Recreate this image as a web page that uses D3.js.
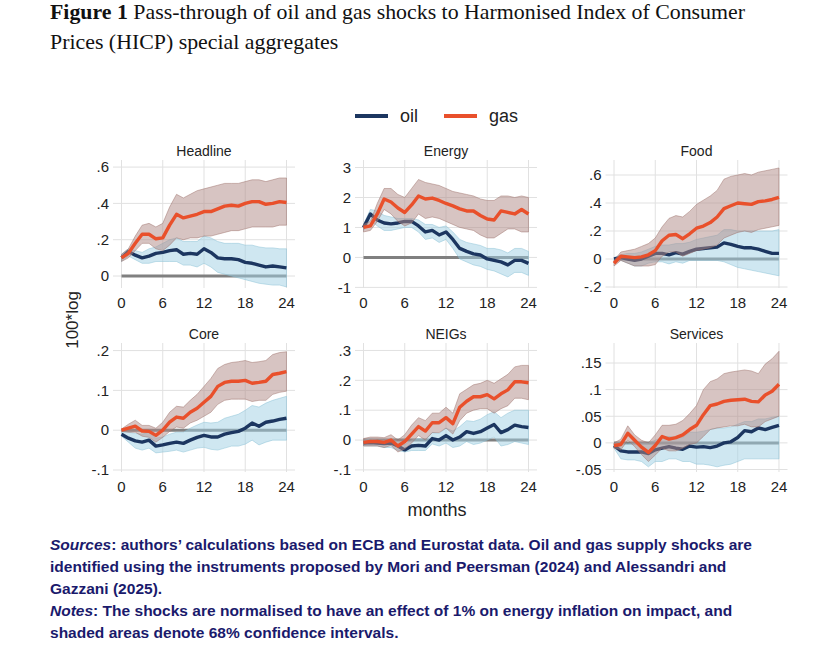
<!DOCTYPE html>
<html>
<head>
<meta charset="utf-8">
<script src="https://cdn.jsdelivr.net/npm/d3@7"></script>
<style>
  body { margin: 0; background: #fff; }
  svg { display: block; }
</style>
</head>
<body>
<svg id="chart" width="816" height="651"></svg>
<script>
// months after the shock
const months = [0, 1, 2, 3, 4, 5, 6, 7, 8, 9, 10, 11, 12, 13, 14, 15, 16, 17, 18, 19, 20, 21, 22, 23, 24];
const xTicks = [0, 6, 12, 18, 24];
const panelTitles = ["Headline", "Energy", "Food", "Core", "NEIGs", "Services"];
const seriesNames = ["oil", "gas"];

// Headline
const headlineOil   = [0.10, 0.135, 0.115, 0.10, 0.11, 0.125, 0.13, 0.14, 0.145, 0.12, 0.125, 0.12, 0.15, 0.13, 0.10, 0.095, 0.095, 0.09, 0.075, 0.07, 0.06, 0.05, 0.055, 0.05, 0.045];
const headlineOilHi = [0.12, 0.15, 0.14, 0.13, 0.15, 0.16, 0.18, 0.20, 0.21, 0.19, 0.19, 0.19, 0.22, 0.21, 0.19, 0.18, 0.18, 0.18, 0.17, 0.17, 0.16, 0.155, 0.155, 0.15, 0.15];
const headlineOilLo = [0.08, 0.11, 0.09, 0.07, 0.07, 0.08, 0.08, 0.08, 0.08, 0.06, 0.06, 0.05, 0.07, 0.05, 0.02, 0.01, 0.0, -0.01, -0.02, -0.03, -0.04, -0.045, -0.05, -0.05, -0.06];
const headlineGas   = [0.10, 0.125, 0.18, 0.23, 0.23, 0.205, 0.21, 0.28, 0.34, 0.32, 0.33, 0.34, 0.355, 0.355, 0.37, 0.385, 0.39, 0.385, 0.40, 0.41, 0.41, 0.395, 0.40, 0.41, 0.405];
const headlineGasHi = [0.12, 0.15, 0.22, 0.28, 0.29, 0.27, 0.29, 0.38, 0.45, 0.43, 0.45, 0.47, 0.48, 0.49, 0.50, 0.51, 0.51, 0.51, 0.52, 0.53, 0.53, 0.52, 0.53, 0.54, 0.54];
const headlineGasLo = [0.08, 0.10, 0.14, 0.18, 0.18, 0.15, 0.14, 0.17, 0.21, 0.20, 0.21, 0.21, 0.22, 0.22, 0.23, 0.24, 0.25, 0.25, 0.26, 0.27, 0.27, 0.27, 0.27, 0.28, 0.28];

// Energy
const energyOil   = [1.0, 1.45, 1.25, 1.15, 1.12, 1.15, 1.2, 1.2, 1.05, 0.85, 0.9, 0.75, 0.85, 0.6, 0.3, 0.2, 0.12, 0.08, -0.05, -0.1, -0.15, -0.25, -0.1, -0.1, -0.2];
const energyOilHi = [1.1, 1.6, 1.55, 1.4, 1.35, 1.3, 1.3, 1.3, 1.25, 1.1, 1.1, 1.0, 1.05, 0.85, 0.6, 0.5, 0.45, 0.4, 0.3, 0.3, 0.25, 0.15, 0.3, 0.3, 0.2];
const energyOilLo = [0.9, 1.25, 1.05, 0.9, 0.9, 0.95, 1.0, 1.0, 0.85, 0.6, 0.65, 0.5, 0.6, 0.3, -0.05, -0.15, -0.25, -0.3, -0.4, -0.45, -0.55, -0.65, -0.5, -0.5, -0.6];
const energyGas   = [1.0, 1.05, 1.45, 1.95, 1.85, 1.65, 1.5, 1.75, 2.05, 1.95, 1.98, 1.9, 1.8, 1.72, 1.62, 1.55, 1.55, 1.4, 1.28, 1.25, 1.55, 1.5, 1.45, 1.6, 1.45];
const energyGasHi = [1.1, 1.2, 1.8, 2.3, 2.3, 2.1, 2.0, 2.3, 2.6, 2.5, 2.45, 2.4, 2.3, 2.2, 2.15, 2.1, 2.05, 1.95, 1.9, 1.9, 2.05, 2.05, 2.0, 2.05, 2.0];
const energyGasLo = [0.85, 0.9, 1.2, 1.6, 1.45, 1.2, 1.05, 1.15, 1.45, 1.3, 1.35, 1.3, 1.2, 1.1, 1.0, 0.95, 0.9, 0.75, 0.65, 0.65, 0.8, 0.95, 0.95, 0.85, 0.85];

// Food
const foodOil   = [0.0, 0.01, 0.0, -0.01, 0.0, 0.02, 0.04, 0.04, 0.03, 0.045, 0.035, 0.055, 0.07, 0.075, 0.08, 0.085, 0.115, 0.105, 0.09, 0.08, 0.08, 0.07, 0.055, 0.04, 0.04];
const foodOilHi = [0.01, 0.03, 0.04, 0.04, 0.05, 0.07, 0.09, 0.10, 0.10, 0.11, 0.11, 0.12, 0.14, 0.15, 0.16, 0.17, 0.21, 0.21, 0.20, 0.20, 0.20, 0.20, 0.20, 0.20, 0.21];
const foodOilLo = [-0.01, -0.01, -0.03, -0.05, -0.05, -0.03, -0.02, -0.02, -0.035, -0.02, -0.03, -0.01, -0.01, -0.01, -0.01, -0.01, -0.02, -0.04, -0.06, -0.07, -0.08, -0.09, -0.10, -0.11, -0.12];
const foodGas   = [-0.03, 0.02, 0.015, 0.01, 0.015, 0.03, 0.06, 0.13, 0.17, 0.175, 0.145, 0.18, 0.22, 0.235, 0.26, 0.30, 0.36, 0.38, 0.40, 0.395, 0.39, 0.41, 0.415, 0.425, 0.44];
const foodGasHi = [-0.01, 0.05, 0.06, 0.07, 0.09, 0.11, 0.15, 0.23, 0.29, 0.31, 0.30, 0.34, 0.39, 0.42, 0.45, 0.49, 0.57, 0.59, 0.60, 0.61, 0.60, 0.62, 0.63, 0.64, 0.65];
const foodGasLo = [-0.05, -0.01, -0.03, -0.05, -0.05, -0.05, -0.04, 0.02, 0.05, 0.05, 0.02, 0.04, 0.06, 0.07, 0.08, 0.10, 0.15, 0.17, 0.19, 0.20, 0.19, 0.21, 0.22, 0.23, 0.24];

// Core
const coreOil   = [-0.01, -0.02, -0.027, -0.03, -0.025, -0.04, -0.037, -0.033, -0.03, -0.033, -0.025, -0.018, -0.013, -0.017, -0.017, -0.01, -0.006, -0.003, 0.005, 0.018, 0.01, 0.02, 0.023, 0.027, 0.03];
const coreOilHi = [-0.005, -0.005, -0.008, -0.01, -0.005, -0.02, -0.017, -0.01, -0.005, -0.005, 0.005, 0.013, 0.02, 0.018, 0.02, 0.03, 0.035, 0.04, 0.05, 0.062, 0.058, 0.068, 0.075, 0.08, 0.085];
const coreOilLo = [-0.015, -0.03, -0.045, -0.05, -0.045, -0.057, -0.055, -0.053, -0.05, -0.055, -0.05, -0.045, -0.043, -0.048, -0.05, -0.045, -0.04, -0.04, -0.035, -0.025, -0.037, -0.03, -0.025, -0.025, -0.025];
const coreGas   = [0.0, 0.005, 0.01, -0.002, -0.003, -0.013, 0.0, 0.02, 0.033, 0.03, 0.045, 0.055, 0.07, 0.085, 0.11, 0.12, 0.123, 0.123, 0.125, 0.118, 0.12, 0.123, 0.14, 0.143, 0.147];
const coreGasHi = [0.003, 0.015, 0.025, 0.012, 0.012, 0.005, 0.02, 0.045, 0.06, 0.058, 0.075, 0.09, 0.11, 0.13, 0.155, 0.165, 0.17, 0.172, 0.175, 0.17, 0.172, 0.175, 0.19, 0.195, 0.197];
const coreGasLo = [-0.003, -0.005, -0.005, -0.015, -0.018, -0.03, -0.018, -0.003, 0.008, 0.005, 0.018, 0.025, 0.035, 0.045, 0.065, 0.075, 0.078, 0.078, 0.078, 0.072, 0.075, 0.075, 0.09, 0.095, 0.098];

// NEIGs
const neigsOil   = [-0.01, -0.008, -0.01, -0.012, -0.01, -0.02, -0.033, -0.02, -0.018, -0.02, 0.005, 0.0, 0.015, 0.0, 0.01, 0.028, 0.022, 0.028, 0.04, 0.052, 0.025, 0.035, 0.05, 0.045, 0.042];
const neigsOilHi = [0.0, 0.005, 0.0, 0.0, 0.003, -0.005, -0.015, 0.0, 0.005, 0.002, 0.025, 0.022, 0.04, 0.03, 0.045, 0.065, 0.062, 0.07, 0.085, 0.095, 0.075, 0.09, 0.10, 0.10, 0.10];
const neigsOilLo = [-0.02, -0.02, -0.02, -0.025, -0.025, -0.035, -0.04, -0.035, -0.035, -0.035, -0.013, -0.02, -0.01, -0.025, -0.02, -0.005, -0.015, -0.01, 0.0, 0.01, -0.02, -0.015, -0.005, -0.01, -0.015];
const neigsGas   = [-0.008, -0.005, -0.005, -0.008, 0.0, -0.02, -0.005, 0.02, 0.045, 0.03, 0.058, 0.058, 0.075, 0.055, 0.11, 0.13, 0.145, 0.145, 0.152, 0.138, 0.155, 0.168, 0.195, 0.195, 0.192];
const neigsGasHi = [0.005, 0.01, 0.01, 0.008, 0.018, 0.0, 0.018, 0.05, 0.075, 0.065, 0.09, 0.09, 0.11, 0.09, 0.155, 0.17, 0.185, 0.19, 0.20, 0.19, 0.205, 0.22, 0.245, 0.25, 0.25];
const neigsGasLo = [-0.02, -0.02, -0.02, -0.025, -0.018, -0.04, -0.03, -0.01, 0.015, 0.0, 0.025, 0.025, 0.04, 0.02, 0.065, 0.09, 0.10, 0.105, 0.105, 0.09, 0.105, 0.115, 0.14, 0.14, 0.135];

// Services
const servicesOil   = [-0.005, -0.015, -0.017, -0.017, -0.017, -0.02, -0.013, -0.01, -0.007, -0.01, -0.012, -0.006, -0.008, -0.007, -0.009, -0.006, 0.0, 0.002, 0.01, 0.023, 0.021, 0.028, 0.025, 0.029, 0.033];
const servicesOilHi = [0.0, 0.0, -0.002, 0.0, 0.0, 0.0, 0.005, 0.01, 0.012, 0.01, 0.01, 0.02, 0.02, 0.022, 0.025, 0.028, 0.028, 0.03, 0.035, 0.04, 0.04, 0.045, 0.045, 0.048, 0.05];
const servicesOilLo = [-0.01, -0.03, -0.032, -0.032, -0.035, -0.045, -0.035, -0.035, -0.03, -0.03, -0.035, -0.035, -0.04, -0.04, -0.042, -0.045, -0.042, -0.04, -0.035, -0.03, -0.03, -0.03, -0.03, -0.03, -0.03];
const servicesGas   = [-0.005, -0.003, 0.018, 0.005, -0.008, -0.018, -0.005, 0.012, 0.007, 0.01, 0.015, 0.025, 0.033, 0.053, 0.07, 0.073, 0.078, 0.08, 0.081, 0.082, 0.078, 0.077, 0.09, 0.097, 0.11];
const servicesGasHi = [0.0, 0.007, 0.032, 0.015, 0.005, 0.0, 0.015, 0.033, 0.033, 0.035, 0.042, 0.055, 0.07, 0.10, 0.115, 0.12, 0.13, 0.133, 0.135, 0.137, 0.135, 0.13, 0.148, 0.158, 0.172];
const servicesGasLo = [-0.01, -0.013, 0.005, -0.007, -0.022, -0.035, -0.023, -0.01, -0.015, -0.015, -0.01, -0.003, 0.0, 0.012, 0.025, 0.028, 0.03, 0.032, 0.032, 0.035, 0.03, 0.03, 0.04, 0.045, 0.05];

// y axis ticks and ranges per panel
const headlineTicks = [0, 0.2, 0.4, 0.6];
const energyTicks = [-1, 0, 1, 2, 3];
const foodTicks = [-0.2, 0, 0.2, 0.4, 0.6];
const coreTicks = [-0.1, 0, 0.1, 0.2];
const neigsTicks = [-0.1, 0, 0.1, 0.2, 0.3];
const servicesTicks = [-0.05, 0, 0.05, 0.1, 0.15];
const yDomains = [[-0.066, 0.639], [-1.02, 3.25], [-0.207, 0.707], [-0.105, 0.219], [-0.107, 0.325], [-0.0547, 0.1876]];

const panels = [
	{oil: headlineOil, oilLo: headlineOilLo, oilHi: headlineOilHi, gas: headlineGas, gasLo: headlineGasLo, gasHi: headlineGasHi, ticks: headlineTicks},
	{oil: energyOil, oilLo: energyOilLo, oilHi: energyOilHi, gas: energyGas, gasLo: energyGasLo, gasHi: energyGasHi, ticks: energyTicks},
	{oil: foodOil, oilLo: foodOilLo, oilHi: foodOilHi, gas: foodGas, gasLo: foodGasLo, gasHi: foodGasHi, ticks: foodTicks},
	{oil: coreOil, oilLo: coreOilLo, oilHi: coreOilHi, gas: coreGas, gasLo: coreGasLo, gasHi: coreGasHi, ticks: coreTicks},
	{oil: neigsOil, oilLo: neigsOilLo, oilHi: neigsOilHi, gas: neigsGas, gasLo: neigsGasLo, gasHi: neigsGasHi, ticks: neigsTicks},
	{oil: servicesOil, oilLo: servicesOilLo, oilHi: servicesOilHi, gas: servicesGas, gasLo: servicesGasLo, gasHi: servicesGasHi, ticks: servicesTicks}
].map((p, i) => ({...p, title: panelTitles[i], domain: yDomains[i]}));

const colors = {
	oil: "#1c3660",
	gas: "#e9502b",
	oilBand: "#9fd0e3",
	oilEdge: "#86bfd5",
	gasBand: "#b08a85",
	gasEdge: "#9c6f69",
	zero: "#808080",
	grid: "#e1e1e1",
	text: "#222",
	note: "#1a1a6c"
};

const sans = "'Liberation Sans', Arial, sans-serif";
const svg = d3.select("#chart");

// stretch a text element to a share of its natural width
const stretch = (t, k) => t.attr("textLength", t.node().getComputedTextLength() * k)
	.attr("lengthAdjust", "spacingAndGlyphs");

// title
const title = svg.append("g").attr("font-family", "'Liberation Serif', 'Times New Roman', serif")
	.attr("font-size", 21).attr("fill", "#111");
const t1 = title.append("text").attr("x", 50).attr("y", 19);
t1.append("tspan").attr("font-weight", "bold").text("Figure 1");
t1.append("tspan").text(" Pass-through of oil and gas shocks to Harmonised Index of Consumer");
const t2 = title.append("text").attr("x", 50).attr("y", 49).text("Prices (HICP) special aggregates");
const titleK = 695 / t1.node().getComputedTextLength();
stretch(t1, titleK);
stretch(t2, titleK);

// legend
const legend = svg.append("g").attr("font-family", sans).attr("font-size", 18).attr("fill", colors.text);
const legendX = [355, 444];
seriesNames.forEach((name, i) => {
	const g = legend.append("g").attr("transform", `translate(${legendX[i]}, 116)`);
	g.append("line").attr("x1", 0).attr("x2", 33).attr("stroke", colors[name]).attr("stroke-width", 4);
	g.append("text").attr("x", 45).attr("y", 6).text(name);
});

// panel layout
const colLeft = [113, 355, 605.5];
const rowTop = [160, 343];
const plotW = 182;
const plotH = [128, 129];

const x = d3.scaleLinear().domain([-1.24, 25.24]).range([0, plotW]);
const fmt = (d) => d === 0 ? "0" : String(d).replace(/^(-?)0\./, "$1.");

panels.forEach((p, i) => {
	const col = i % 3;
	const row = Math.floor(i / 3);
	const h = plotH[row];
	const y = d3.scaleLinear().domain(p.domain).range([h, 0]);
	const g = svg.append("g").attr("transform", `translate(${colLeft[col]}, ${rowTop[row]})`);

	// grid
	g.append("g").selectAll("line").data(p.ticks).join("line")
		.attr("x1", 0).attr("x2", plotW)
		.attr("y1", (d) => y(d)).attr("y2", (d) => y(d))
		.attr("stroke", colors.grid).attr("stroke-width", 1);
	g.append("g").selectAll("line").data(xTicks).join("line")
		.attr("x1", (d) => x(d)).attr("x2", (d) => x(d))
		.attr("y1", 0).attr("y2", h)
		.attr("stroke", colors.grid).attr("stroke-width", 1);

	// zero line
	g.append("line")
		.attr("x1", x(months[0])).attr("x2", x(months[months.length - 1]))
		.attr("y1", y(0)).attr("y2", y(0))
		.attr("stroke", colors.zero).attr("stroke-width", 3);

	const area = (lo, hi) => d3.area()
		.x((d, j) => x(months[j]))
		.y0((d, j) => y(lo[j]))
		.y1((d, j) => y(hi[j]))(months);
	const line = (vals) => d3.line()
		.x((d, j) => x(months[j]))
		.y((d, j) => y(vals[j]))(months);

	g.append("path").attr("d", area(p.oilLo, p.oilHi))
		.attr("fill", colors.oilBand).attr("fill-opacity", 0.5)
		.attr("stroke", colors.oilEdge).attr("stroke-opacity", 0.6).attr("stroke-width", 0.8);
	g.append("path").attr("d", line(p.oil))
		.attr("fill", "none").attr("stroke", colors.oil).attr("stroke-width", 3.4)
		.attr("stroke-linejoin", "round");
	g.append("path").attr("d", area(p.gasLo, p.gasHi))
		.attr("fill", colors.gasBand).attr("fill-opacity", 0.5)
		.attr("stroke", colors.gasEdge).attr("stroke-opacity", 0.6).attr("stroke-width", 0.8);
	g.append("path").attr("d", line(p.gas))
		.attr("fill", "none").attr("stroke", colors.gas).attr("stroke-width", 3.4)
		.attr("stroke-linejoin", "round");

	// labels
	g.append("text").attr("x", plotW / 2).attr("y", -4)
		.attr("text-anchor", "middle").attr("font-family", sans).attr("font-size", 14)
		.attr("fill", colors.text).text(p.title);
	g.append("g").selectAll("text").data(p.ticks).join("text")
		.attr("x", -4).attr("y", (d) => y(d)).attr("dy", "0.35em")
		.attr("text-anchor", "end").attr("font-family", sans).attr("font-size", 15)
		.attr("fill", colors.text).text(fmt);
	g.append("g").selectAll("text").data(xTicks).join("text")
		.attr("x", (d) => x(d)).attr("y", h + 20)
		.attr("text-anchor", "middle").attr("font-family", sans).attr("font-size", 15)
		.attr("fill", colors.text).text((d) => d);
});

// shared axis titles
svg.append("text").attr("transform", "translate(78, 320) rotate(-90)")
	.attr("text-anchor", "middle").attr("font-family", sans).attr("font-size", 17)
	.attr("fill", colors.text).text("100*log");
svg.append("text").attr("x", 437).attr("y", 516)
	.attr("text-anchor", "middle").attr("font-family", sans).attr("font-size", 18)
	.attr("fill", colors.text).text("months");

// sources and notes
const noteLines = [
	[["Sources", true], [": authors’ calculations based on ECB and Eurostat data. Oil and gas supply shocks are", false]],
	[["identified using the instruments proposed by Mori and Peersman (2024) and Alessandri and", false]],
	[["Gazzani (2025).", false]],
	[["Notes", true], [": The shocks are normalised to have an effect of 1% on energy inflation on impact, and", false]],
	[["shaded areas denote 68% confidence intervals.", false]]
];
const notes = svg.append("g").attr("font-family", sans).attr("font-size", 15)
	.attr("font-weight", "bold").attr("fill", colors.note);
const noteTexts = noteLines.map((parts, i) => {
	const t = notes.append("text").attr("x", 50).attr("y", 550 + i * 22);
	parts.forEach(([s, it]) => t.append("tspan").attr("font-style", it ? "italic" : "normal").text(s));
	return t;
});
const squeeze = 702 / noteTexts[0].node().getComputedTextLength();
noteTexts.forEach((t) => stretch(t, squeeze));
</script>
</body>
</html>
